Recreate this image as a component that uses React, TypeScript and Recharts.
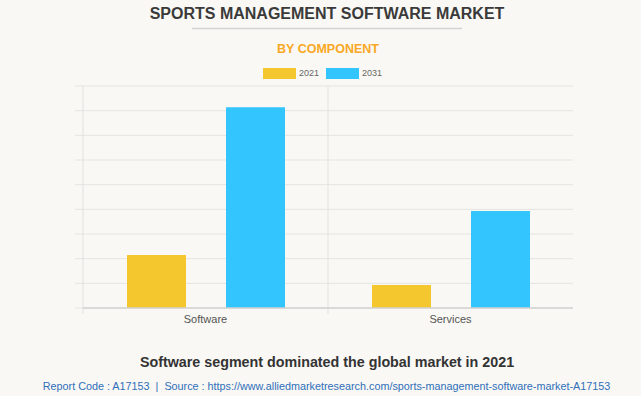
import React from 'react';
import { BarChart, Bar, XAxis, YAxis, CartesianGrid } from 'recharts';

const categories = ['Software', 'Services'];
const seriesNames = ['2021', '2031'];
const values2021 = [215, 93];
const values2031 = [814, 393];
const yTicks = [0, 100, 200, 300, 400, 500, 600, 700, 800, 900];
const seriesColors = ['#f4c72f', '#33c5fe'];

const titleText = 'SPORTS MANAGEMENT SOFTWARE MARKET';
const subTitleText = 'BY COMPONENT';
const captionText = 'Software segment dominated the global market in 2021';
const sourceText =
  'Report Code : A17153  |  Source : https://www.alliedmarketresearch.com/sports-management-software-market-A17153';

const data = categories.map((c, i) => ({
  category: c,
  s2021: values2021[i],
  s2031: values2031[i],
}));

const FONT = '"Liberation Sans", Arial, Helvetica, sans-serif';

const verticalGen = (props: any) => {
  const xAxis = props && props.xAxis;
  const offset = props && props.offset;
  if (xAxis && typeof xAxis.scale === 'function') {
    const pts = categories.map((c) => xAxis.scale(c)).filter((v: any) => typeof v === 'number' && !isNaN(v));
    if (pts.length === categories.length) return pts;
  }
  if (offset) {
    return categories.map((_, i) => offset.left + (i * offset.width) / categories.length);
  }
  return [];
};

export default function App() {
  return (
    <div
      style={{
        position: 'absolute',
        left: 0,
        top: 0,
        width: 641,
        height: 396,
        background: '#f9f8f4',
        overflow: 'hidden',
        fontFamily: FONT,
      }}
    >
      <div style={{ position: 'absolute', left: 0, top: 0 }}>
        <BarChart
          width={641}
          height={340}
          data={data}
          margin={{ top: 86, right: 68, bottom: 7, left: 0 }}
          barCategoryGap={44}
          barGap={40}
        >
          <CartesianGrid
            stroke="#e4e4e2"
            verticalCoordinatesGenerator={verticalGen}
            vertical={(p: any) => (
              <line
                key={p.key ?? `v-${p.index}`}
                x1={p.x1}
                x2={p.x2}
                y1={p.y1}
                y2={p.y2 + 6}
                stroke="#e2e2e0"
                strokeWidth={1}
              />
            )}
          />
          <YAxis
            width={83}
            domain={[0, 900]}
            ticks={yTicks}
            axisLine={false}
            tickLine={{ stroke: '#e4e4e2' }}
            tickSize={8}
            tickFormatter={() => ''}
            interval={0}
          />
          <XAxis
            dataKey="category"
            height={25}
            axisLine={{ stroke: '#d2d2d0', strokeWidth: 1.5 }}
            tickLine={false}
            tickMargin={1}
            tick={{ fill: '#555555', fontSize: 11, fontFamily: FONT }}
          />
          <Bar dataKey="s2021" name={seriesNames[0]} fill={seriesColors[0]} isAnimationActive={false} />
          <Bar dataKey="s2031" name={seriesNames[1]} fill={seriesColors[1]} isAnimationActive={false} />
        </BarChart>
      </div>

      <svg
        width={641}
        height={396}
        style={{ position: 'absolute', left: 0, top: 0, pointerEvents: 'none' }}
        fontFamily={FONT}
      >
        <text x={327} y={19} textAnchor="middle" fontSize={16} fontWeight="bold" fill="#3a3a3a">
          {titleText}
        </text>
        <line x1={192} x2={462} y1={28.5} y2={28.5} stroke="#d3d3d3" strokeWidth={1.5} />
        <text x={328} y={52.5} textAnchor="middle" fontSize={12.5} fontWeight="bold" fill="#f9a825">
          {subTitleText}
        </text>
        <text x={327} y={367} textAnchor="middle" fontSize={14.3} fontWeight="bold" fill="#333333">
          {captionText}
        </text>
        <text
          x={326.5}
          y={390}
          textAnchor="middle"
          fontSize={10.8}
          fill="#2f6fba"
          style={{ whiteSpace: 'pre' }}
        >
          {sourceText}
        </text>
      </svg>

      <div
        style={{
          position: 'absolute',
          left: 263,
          top: 68,
          display: 'flex',
          alignItems: 'center',
          fontFamily: FONT,
          fontSize: 9,
          color: '#666666',
          lineHeight: '11px',
        }}
      >
        {seriesNames.map((n, i) => (
          <div key={n} style={{ display: 'flex', alignItems: 'center', marginRight: 7 }}>
            <div style={{ width: 33, height: 11, background: seriesColors[i], marginRight: 3 }} />
            <span>{n}</span>
          </div>
        ))}
      </div>
    </div>
  );
}
